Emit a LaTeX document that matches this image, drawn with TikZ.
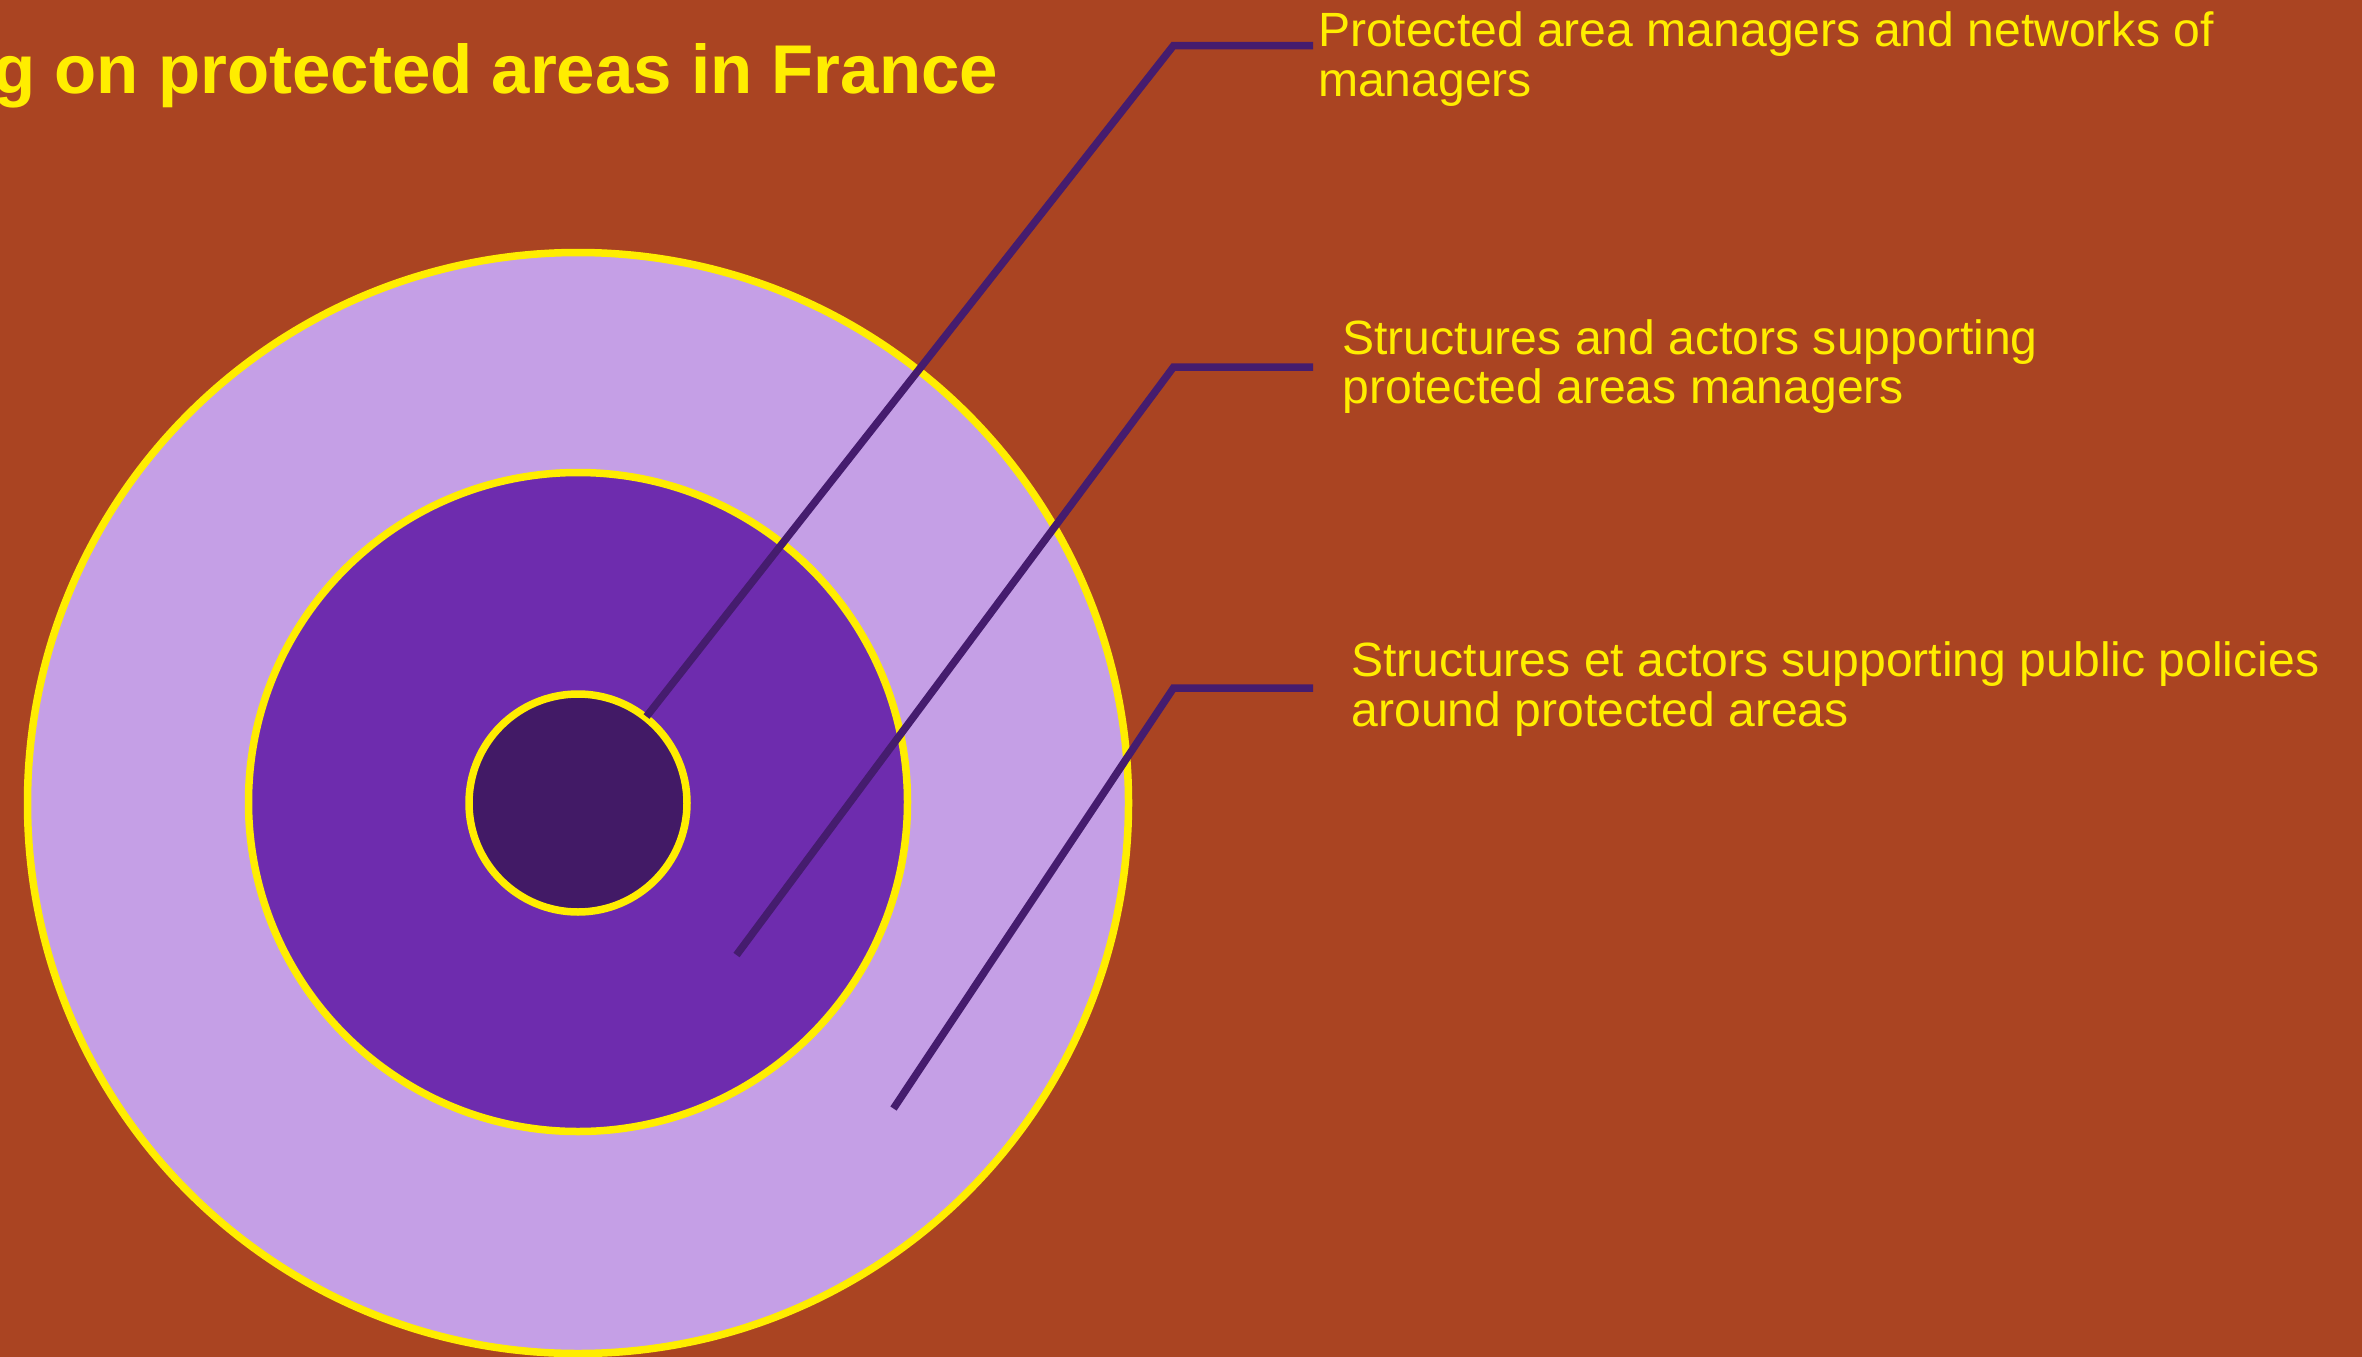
\documentclass[tikz,border=0pt]{standalone}
\usepackage{fontspec}
\setmainfont{Liberation Sans}
\definecolor{bgc}{HTML}{AA4422}
\definecolor{ringA}{HTML}{C59FE6}
\definecolor{ringB}{HTML}{6E2CAE}
\definecolor{ringC}{HTML}{421A66}
\definecolor{linec}{HTML}{451C6E}
\definecolor{yel}{HTML}{FFED00}
\begin{document}
\begin{tikzpicture}[x=1pt,y=-1pt,
  ring/.style={circle,draw=yel,line width=7.5pt,inner sep=0pt,outer sep=0pt},
  leader/.style={draw=linec,line width=7.5pt,line cap=butt,line join=miter},
  lbl/.style={anchor=base west,inner sep=0pt,outer sep=0pt,text=yel,font=\fontsize{48.1pt}{49.5pt}\selectfont},
  ttl/.style={anchor=base east,inner sep=0pt,outer sep=0pt,text=yel,font=\fontsize{69pt}{80pt}\selectfont\bfseries}]
\useasboundingbox (0,0) rectangle (2362,1357);
\clip (0,0) rectangle (2362,1357);
\fill[bgc] (0,0) rectangle (2362,1357);
\node[ring,fill=ringA,minimum size=1101pt] (outer) at (578,803) {};
\node[ring,fill=ringB,minimum size=659pt] (middle) at (578,802) {};
\node[ring,fill=ringC,minimum size=218pt] (inner) at (578,803) {};
\node[ttl] (title) at (998,93) {g on protected areas in France};
\coordinate (e1) at (646.5,716.5);
\coordinate (k1) at (1173.5,45.5);
\coordinate (h1) at (1313,45.5);
\coordinate (e2) at (736.5,955);
\coordinate (k2) at (1173.5,367);
\coordinate (h2) at (1313,367);
\coordinate (e3) at (893.5,1108.5);
\coordinate (k3) at (1173.5,688);
\coordinate (h3) at (1313,688);
\draw[leader] (e1) -- (k1) -- (h1);
\draw[leader] (e2) -- (k2) -- (h2);
\draw[leader] (e3) -- (k3) -- (h3);
\node[lbl] (l1) at (1318,46.7) {\vtop{\hbox{Protected area managers and networks of}\hbox{managers}}};
\node[lbl] (l2) at (1342.5,354) {\vtop{\hbox{Structures and actors supporting}\hbox{protected areas managers}}};
\node[lbl] (l3) at (1351.5,676.7) {\vtop{\hbox{Structures et actors supporting public policies}\hbox{around protected areas}}};
\end{tikzpicture}
\end{document}
